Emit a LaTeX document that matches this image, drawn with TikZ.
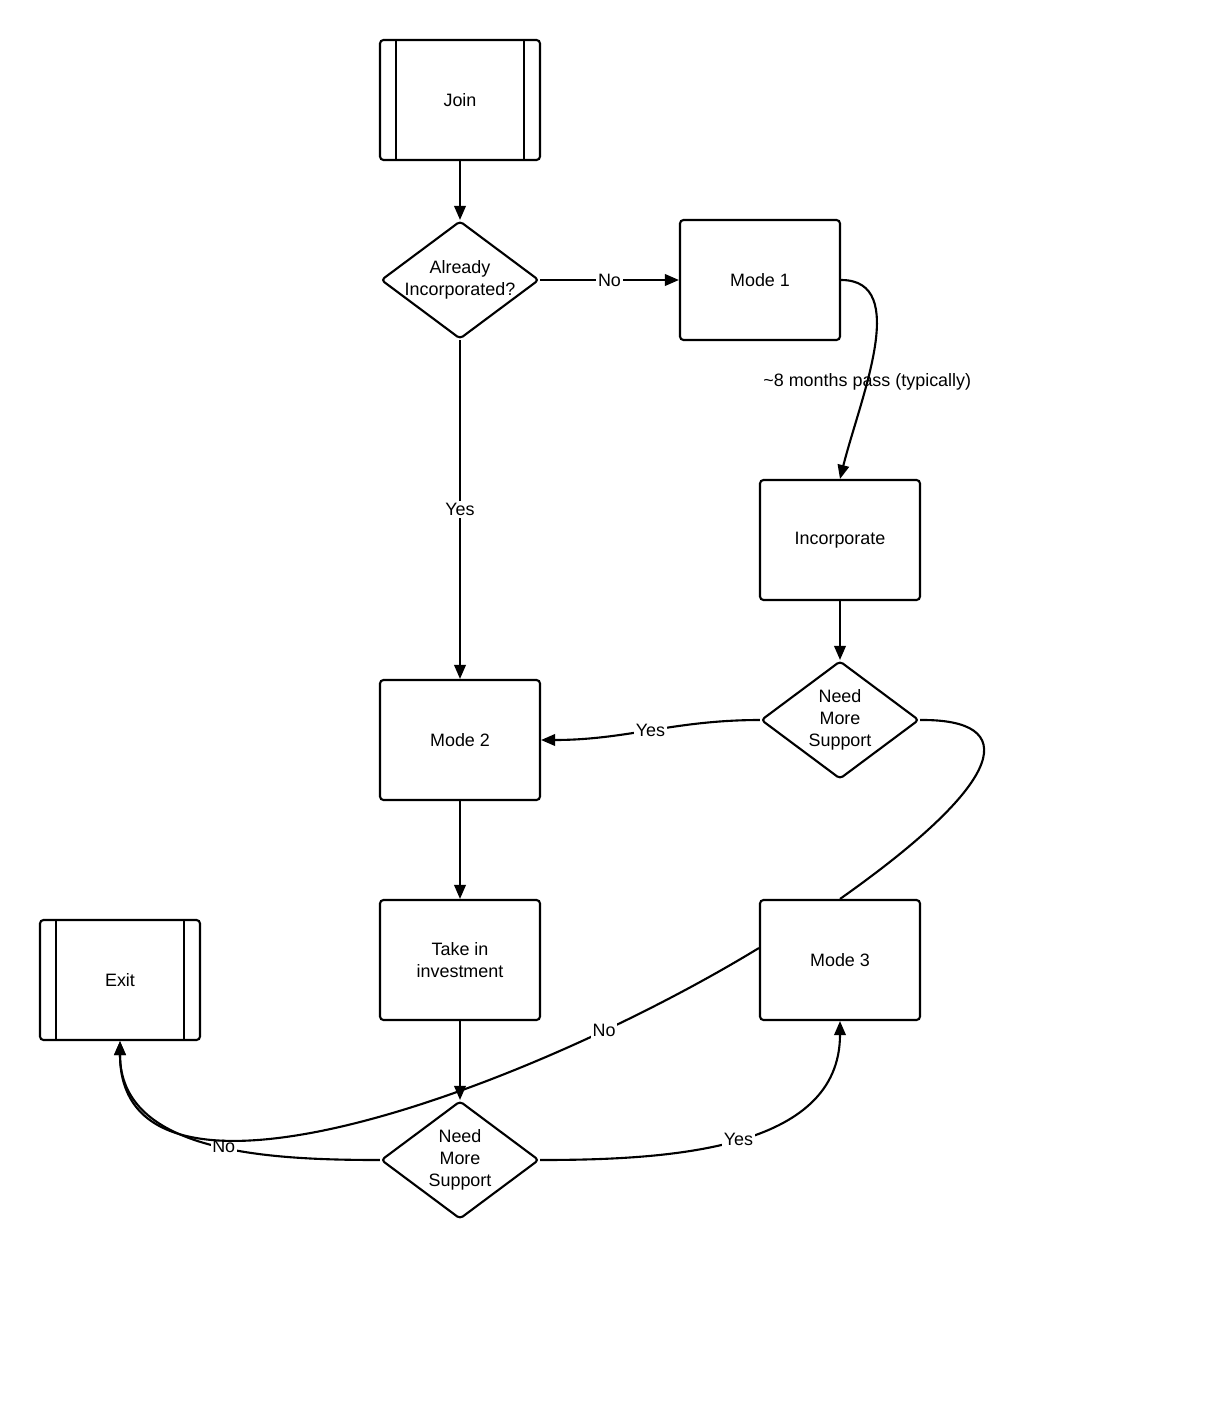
\documentclass[tikz,border=0pt]{standalone}
\usepackage{fontspec}
\setmainfont{Liberation Sans}
\usepackage{tikz}
\usetikzlibrary{shapes.geometric,arrows.meta}

\begin{document}
\begin{tikzpicture}[line width=1.2pt, font=\fontsize{10.2}{12.5}\selectfont,
            box/.style={draw, rounded corners=2pt, minimum width=3.2cm, minimum height=2.4cm, align=center},
            proc/.style={box, path picture={
                \draw ([xshift=0.32cm]path picture bounding box.north west) -- ([xshift=0.32cm]path picture bounding box.south west);
                \draw ([xshift=-0.32cm]path picture bounding box.north east) -- ([xshift=-0.32cm]path picture bounding box.south east);}},
            decision/.style={draw, diamond, shape aspect=1.34, rounded corners=2pt, inner sep=-2pt, minimum width=3.16cm, minimum height=2.36cm, align=center},
            arr/.style={-{Triangle[length=0.28cm,width=0.23cm]}},
            lbl/.style={fill=white, inner sep=1pt}]
            \useasboundingbox (0,0) rectangle (24.4,-28.5);
            % nodes
            \node[proc] (join) at (9.2,-2) {Join};
            \node[decision] (already) at (9.2,-5.6) {Already\\Incorporated?};
            \node[box] (mode1) at (15.2,-5.6) {Mode 1};
            \node[box] (incorp) at (16.8,-10.8) {Incorporate};
            \node[decision] (need1) at (16.8,-14.4) {Need\\More\\Support};
            \node[box] (mode2) at (9.2,-14.8) {Mode 2};
            \node[box] (invest) at (9.2,-19.2) {Take in\\investment};
            \node[box] (mode3) at (16.8,-19.2) {Mode 3};
            \node[proc] (exit) at (2.4,-19.6) {Exit};
            \node[decision] (need2) at (9.2,-23.2) {Need\\More\\Support};
            % connectors
            \draw[arr] (join) -- (already);
            \draw[arr] (already) -- node[lbl]{No} (mode1);
            \draw[arr] (already) -- node[lbl]{Yes} (mode2);
            \draw[arr] (mode1.east) .. controls +(1.4,0) and +(0.4,1.6) .. node[pos=0.63]{\textasciitilde8 months pass (typically)} (incorp.north);
            \draw[arr] (incorp) -- (need1);
            \draw[arr] (need1.west) to[out=180,in=0] node[lbl]{Yes} (mode2.east);
            \draw (need1.east) .. controls +(2,0.02) and +(3.4,2.4) .. (mode3.north);
            \draw[arr] (mode2) -- (invest);
            \draw[arr] (invest) -- (need2);
            \draw[arr] (need2.west) to[out=180,in=270] node[lbl,pos=0.45]{No} (exit.south);
            \draw[arr] (need2.east) to[out=0,in=270] node[lbl]{Yes} (mode3.south);
            \draw[arr] ([yshift=0.24cm]mode3.west) .. controls +(-4.6,-2.8) and +(0,-4) .. node[lbl,pos=0.2]{No} (exit.south);
        \end{tikzpicture}
\end{document}
